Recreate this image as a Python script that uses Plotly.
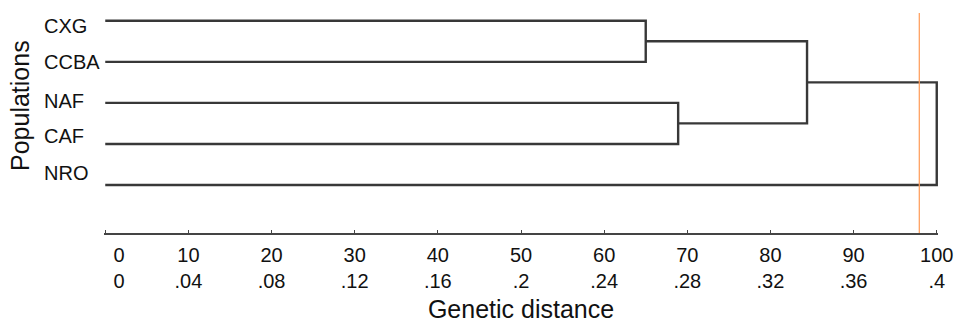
import plotly.graph_objects as go

# ---- data ----
leaves = ["CXG", "CCBA", "NAF", "CAF", "NRO"]          # top to bottom
merge_a = ["CXG", "NAF", "C1", "C3"]
merge_b = ["CCBA", "CAF", "C2", "NRO"]
merge_dist = [65.0, 68.9, 84.4, 100.0]                 # linkage distance (% of max)
merge_name = ["C1", "C2", "C3", "C4"]
cutoff = 97.9
tick_vals = [0, 10, 20, 30, 40, 50, 60, 70, 80, 90, 100]
tick_top = ["0", "10", "20", "30", "40", "50", "60", "70", "80", "90", "100"]
tick_bottom = ["0", ".04", ".08", ".12", ".16", ".2", ".24", ".28", ".32", ".36", ".4"]

# ---- layout-only settings ----
label_y = [4.88, 3.99, 3.05, 2.19, 1.28]   # where the population names sit
FONT = "Arial, Liberation Sans, sans-serif"
LINE = "#383838"

# positions of leaves and clusters
pos = {}
n = len(leaves)
for i, name in enumerate(leaves):
    pos[name] = (0.0, float(n - i))

xs, ys = [], []
for a, b, h, c in zip(merge_a, merge_b, merge_dist, merge_name):
    xa, ya = pos[a]
    xb, yb = pos[b]
    xs += [xa, h, h, xb, None]
    ys += [ya, ya, yb, yb, None]
    pos[c] = (h, (ya + yb) / 2)

fig = go.Figure()
fig.add_trace(go.Scatter(x=xs, y=ys, mode="lines",
                         line=dict(color=LINE, width=2.4),
                         hoverinfo="skip", showlegend=False))

fig.add_vline(x=cutoff, line=dict(color="#FF9A55", width=1.2))

ticktext = []
for i, (t, b) in enumerate(zip(tick_top, tick_bottom)):
    if i == 0:
        pad = "\u00a0" * 5
        ticktext.append(f"{pad}{t}<br>{pad}{b}")
    else:
        ticktext.append(f"{t}<br>{b}")

for name, yy in zip(leaves, label_y):
    fig.add_annotation(text=name, xref="paper", yref="y", x=-0.074, y=yy,
                       xanchor="left", yanchor="middle", showarrow=False,
                       font=dict(family=FONT, size=20, color="#111111"))

fig.add_annotation(text="Populations", xref="paper", yref="paper",
                   x=-0.1, y=0.58, xanchor="center", yanchor="middle",
                   textangle=-90, showarrow=False,
                   font=dict(family=FONT, size=25, color="#111111"))

fig.update_xaxes(range=[-0.15, 100.15], tickvals=tick_vals, ticktext=ticktext,
                 showgrid=False, zeroline=False, showline=True,
                 linecolor="#444444", linewidth=1.6,
                 ticks="inside", ticklen=3, tickwidth=1, tickcolor="#444444",
                 ticklabelstandoff=3, automargin=False,
                 tickfont=dict(family=FONT, size=20, color="#111111"),
                 title=dict(text="Genetic distance", standoff=14,
                            font=dict(family=FONT, size=25, color="#111111")))
fig.update_yaxes(range=[-0.17, 5.19], showgrid=False, zeroline=False,
                 showline=False, showticklabels=False, ticks="",
                 automargin=False)

fig.update_layout(width=960, height=323,
                  margin=dict(l=104, r=22, t=13, b=90),
                  plot_bgcolor="white", paper_bgcolor="white",
                  font=dict(family=FONT, color="#111111"))

fig.write_html("out.html", config={"displayModeBar": False},
               post_script="document.body.style.margin='0';document.body.style.overflow='hidden';")
